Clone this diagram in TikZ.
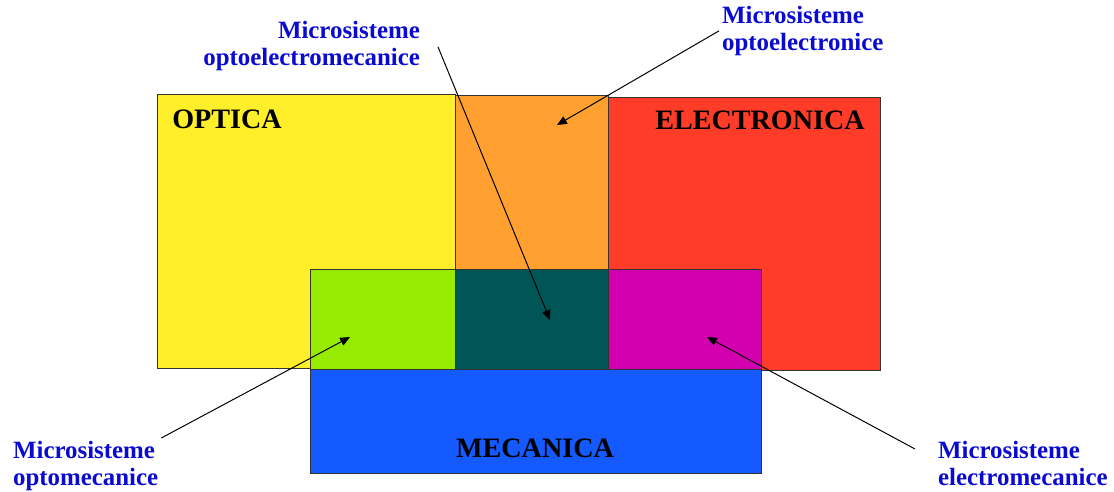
\documentclass[tikz,border=0pt]{standalone}
\usepackage{fontspec}
\setmainfont{Liberation Serif}
\usetikzlibrary{arrows.meta}
\definecolor{optyellow}{RGB}{255,238,42}
\definecolor{eleced}{RGB}{255,60,40}
\definecolor{optoorange}{RGB}{255,160,48}
\definecolor{omgreen}{RGB}{150,235,0}
\definecolor{oemteal}{RGB}{0,85,85}
\definecolor{emmagenta}{RGB}{210,0,175}
\definecolor{mecblue}{RGB}{20,90,255}
\definecolor{labelblue}{RGB}{10,10,210}
\tikzset{
  zone/.style={draw=black!80, line width=0.6pt},
  fieldname/.style={font=\bfseries\fontsize{20}{24}\selectfont, inner sep=0pt},
  sysname/.style={font=\bfseries\fontsize{17.7}{19.2}\selectfont, text=labelblue, inner sep=2pt},
  pointer/.style={-{Triangle[length=7pt,width=6pt]}, line width=0.7pt}
}
\begin{document}
\begin{tikzpicture}[x=0.025cm, y=-0.025cm]
    \useasboundingbox (0,0) rectangle (1114,492);
    % the three fields
    \draw[zone, fill=optyellow] (157,94) rectangle (455,368);
    \draw[zone, fill=eleced] (608,97) rectangle (880,370);
    \draw[zone, fill=optoorange] (455,95) rectangle (608,269);
    % overlaps with mechanics
    \draw[zone, fill=omgreen] (310,269) rectangle (455,369);
    \draw[zone, fill=oemteal] (455,269) rectangle (608,369);
    \draw[zone, fill=emmagenta] (608,269) rectangle (761,369);
    \draw[zone, fill=mecblue] (310,369) rectangle (761,473);
    \node[fieldname, anchor=base west] (optica) at (172,129) {OPTICA};
    \node[fieldname, anchor=base west] (electronica) at (655,130) {ELECTRONICA};
    \node[fieldname, anchor=base] (mecanica) at (535,457) {MECANICA};
    % labels of the microsystems
    \node[sysname, align=right, anchor=north east] (oem) at (423,18) {Microsisteme\\optoelectromecanice};
    \node[sysname, align=left, anchor=north west] (oe) at (719,3) {Microsisteme\\optoelectronice};
    \node[sysname, align=left, anchor=north west] (om) at (10,438) {Microsisteme\\optomecanice};
    \node[sysname, align=left, anchor=north west] (em) at (935,438) {Microsisteme\\electromecanice};
    \coordinate (oemtip) at (550,320);
    \coordinate (oetip) at (557,125);
    \coordinate (omtip) at (350,337);
    \coordinate (emtip) at (707,337);
    \draw[pointer] ([shift={(15,1)}]oem.east) -- (oemtip);
    \draw[pointer] (oe.west) -- (oetip);
    \draw[pointer] (om.north east) -- (omtip);
    \draw[pointer] ([shift={(-20,11)}]em.north west) -- (emtip);
\end{tikzpicture}
\end{document}
